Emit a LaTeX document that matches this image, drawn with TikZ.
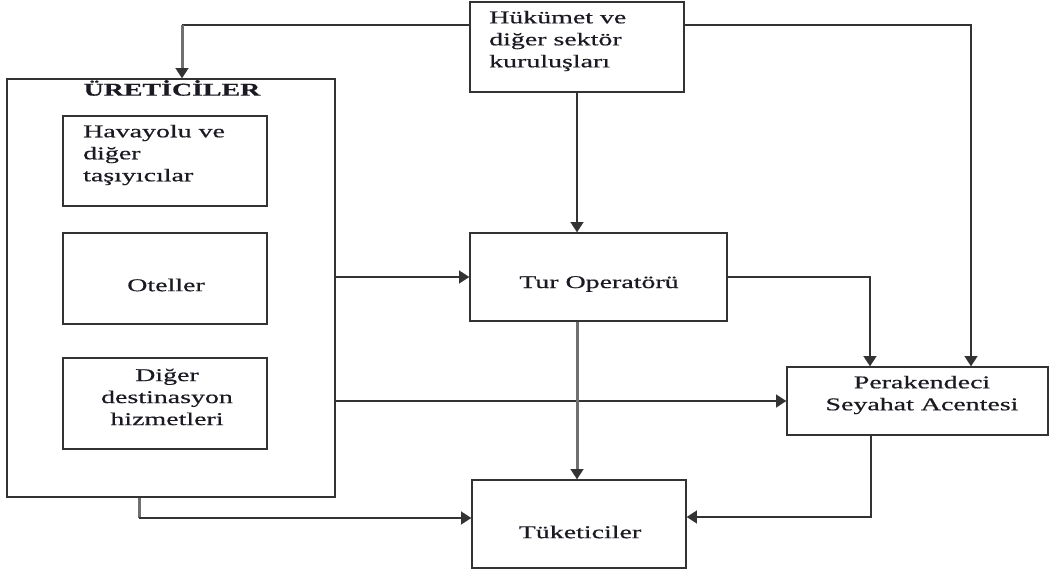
\documentclass[tikz,border=0pt]{standalone}
\usepackage{fontspec}
\setmainfont{Liberation Serif}[FakeStretch=1.55,FakeBold=0.6]
\usetikzlibrary{arrows.meta}
\definecolor{ink}{HTML}{1A1A22}
\definecolor{edge}{HTML}{333333}
\definecolor{pipe}{HTML}{707070}

\begin{document}
\begin{tikzpicture}[x=1pt,y=-1pt,
  every node/.style={font=\fontsize{18}{22}\selectfont, text=ink},
  box/.style={draw=edge, line width=1.7pt, rectangle, inner sep=0pt},
  tip/.style={-{Triangle[length=10pt,width=13pt,line width=0.1pt,color=edge]}},
  link/.style={draw=edge, line width=1.4pt},
  flow/.style={link, tip},
  pipeline/.style={draw=pipe, line width=3pt},
  pipeflow/.style={pipeline, tip}
]
\useasboundingbox (0,0) rectangle (1050,575);

% boxes
\node[box, minimum width=214pt, minimum height=90pt] (hukumet) at (577,47) {};
\node[box, minimum width=328pt, minimum height=418pt] (uretici) at (171,288) {};
\node[box, minimum width=204pt, minimum height=90pt] (havayolu) at (165,161) {};
\node[box, minimum width=204pt, minimum height=91pt] (oteller) at (165,278.5) {};
\node[box, minimum width=204pt, minimum height=91pt] (diger) at (165,403.5) {};
\node[box, minimum width=257pt, minimum height=88pt] (tur) at (598.5,277) {};
\node[box, minimum width=261pt, minimum height=68pt] (perakende) at (917.5,401) {};
\node[box, minimum width=214pt, minimum height=88pt] (tuketici) at (579,524) {};

% labels
\node[anchor=west, align=left, inner sep=0pt] (hukumet-t) at (489,41) {Hükümet ve\\diğer sektör\\kuruluşları};
\node[font=\fontsize{18}{22}\selectfont\bfseries, inner sep=0pt] (uretici-t) at (172,88) {ÜRETİCİLER};
\node[anchor=west, align=left, inner sep=0pt] (havayolu-t) at (83,155) {Havayolu ve\\diğer\\taşıyıcılar};
\node[inner sep=0pt] (oteller-t) at (166,285) {Oteller};
\node[align=center, inner sep=0pt] (diger-t) at (167,397) {Diğer\\destinasyon\\hizmetleri};
\node[inner sep=0pt] (tur-t) at (599,284) {Tur Operatörü};
\node[align=center, inner sep=0pt] (perakende-t) at (922,395) {Perakendeci\\Seyahat Acentesi};
\node[inner sep=0pt] (tuketici-t) at (580,532) {Tüketiciler};

% bends of the connectors
\coordinate (bendA) at (182,25);
\coordinate (bendB) at (971,25);
\coordinate (bendC) at (870,277);
\coordinate (bendD) at (871,517);
\coordinate (bendE) at (139,518);

% connectors
\draw[link] (hukumet.west |- bendA) -- (bendA);
\draw[pipeflow] (bendA) -- (uretici.north -| bendA);
\draw[flow] (hukumet.east |- bendB) -- (bendB) -- (perakende.north -| bendB);
\draw[flow] (hukumet.south) -- (hukumet.south |- tur.north);
\draw[flow] (uretici.east |- tur.west) -- (tur.west);
\draw[flow] (tur.east) -- (bendC) -- (perakende.north -| bendC);
\draw[flow] (uretici.east |- perakende.west) -- (perakende.west);
\draw[pipeflow] (hukumet.south |- tur.south) -- (hukumet.south |- tuketici.north);
\draw[flow] (perakende.south -| bendD) -- (bendD) -- (tuketici.east |- bendD);
\draw[pipeline] (uretici.south -| bendE) -- (bendE);
\draw[flow] (bendE) -- (tuketici.west |- bendE);
\end{tikzpicture}
\end{document}
